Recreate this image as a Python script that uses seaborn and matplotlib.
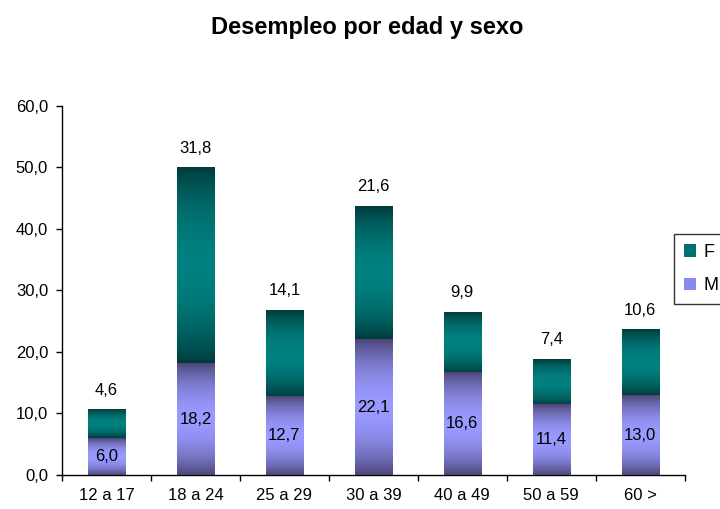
import numpy as np
import pandas as pd
import matplotlib
matplotlib.use("Agg")
import matplotlib.pyplot as plt
from matplotlib.colors import LinearSegmentedColormap
from matplotlib.patches import Patch
import seaborn as sns

# datos
edades = ['12 a 17', '18 a 24', '25 a 29', '30 a 39', '40 a 49', '50 a 59', '60 >']
valores_m = [6.0, 18.2, 12.7, 22.1, 16.6, 11.4, 13.0]
valores_f = [4.6, 31.8, 14.1, 21.6, 9.9, 7.4, 10.6]

df = pd.DataFrame({'edad': edades, 'M': valores_m, 'F': valores_f})
df['total'] = df['M'] + df['F']

sns.set_style('ticks')
plt.rcParams['font.family'] = ['Liberation Sans', 'DejaVu Sans']
plt.rcParams['text.color'] = 'black'
plt.rcParams['xtick.color'] = 'black'
plt.rcParams['ytick.color'] = 'black'
plt.rcParams['axes.labelcolor'] = 'black'

fig = plt.figure(figsize=(7.2, 5.09), dpi=100)
ax = fig.add_axes([0.0861, 0.0668, 0.865, 0.725])

ancho = 0.42
sns.barplot(data=df, x='edad', y='total', color='#008080', width=ancho, saturation=1, ax=ax)
sns.barplot(data=df, x='edad', y='M', color='#9999ff', width=ancho, saturation=1, ax=ax)

# degradado: oscuro arriba y abajo, claro en el medio
cmap_f = LinearSegmentedColormap.from_list('f', ['#003a3a', '#008080'])
cmap_m = LinearSegmentedColormap.from_list('m', ['#4a4474', '#9999ff'])
t = np.linspace(0, 1, 256)
perfil = np.clip(np.sin(np.pi * t) ** 0.8, 0, 1).reshape(-1, 1)

n = len(edades)
barras_total = ax.patches[:n]
barras_m = ax.patches[n:2 * n]
for p_tot, p_m in zip(barras_total, barras_m):
    x0, w = p_tot.get_x(), p_tot.get_width()
    m = p_m.get_height()
    tot = p_tot.get_height()
    ax.imshow(perfil, cmap=cmap_f, aspect='auto', extent=(x0, x0 + w, m, tot),
              vmin=0, vmax=1, zorder=3, interpolation='bilinear')
    ax.imshow(perfil, cmap=cmap_m, aspect='auto', extent=(x0, x0 + w, 0, m),
              vmin=0, vmax=1, zorder=3, interpolation='bilinear')

ax.set_xlim(-0.5, n - 0.5)
ax.set_ylim(0, 60)
ax.set_yticks(np.arange(0, 61, 10))
ax.set_yticklabels([f'{v:.1f}'.replace('.', ',') for v in np.arange(0, 61, 10)])

# etiquetas
for i, (m, f) in enumerate(zip(valores_m, valores_f)):
    ax.text(i, m / 2, f'{m:.1f}'.replace('.', ','), ha='center', va='center',
            fontsize=12, color='black', zorder=5)
    ax.annotate(f'{f:.1f}'.replace('.', ','), (i, m + f), xytext=(0, 14),
                textcoords='offset points', ha='center', va='center', fontsize=12,
                color='black', zorder=5)

ax.set_xlabel('')
ax.set_ylabel('')
ax.tick_params(axis='x', which='major', length=0, pad=9.5, labelsize=12, labelcolor='black')
ax.set_xticks(np.arange(-0.5, n), minor=True)
ax.tick_params(axis='x', which='minor', length=4, width=1, color='black')
ax.tick_params(axis='y', length=4, width=1, color='black', labelsize=12, pad=6,
               labelcolor='black')
sns.despine(ax=ax)
for s in ['left', 'bottom']:
    ax.spines[s].set_color('black')
    ax.spines[s].set_linewidth(1)

fig.text(0.51, 0.945, 'Desempleo por edad y sexo', ha='center', va='center',
         fontsize=17, fontweight='bold', color='black')

handles = [Patch(facecolor='#007070', edgecolor='none', label='F'),
           Patch(facecolor='#8888ee', edgecolor='none', label='M')]
leg = fig.legend(handles=handles, loc='upper left', bbox_to_anchor=(0.936, 0.54),
                 frameon=True, fancybox=False, fontsize=13, handlelength=0.7,
                 handleheight=0.7, handletextpad=0.4, labelspacing=0.9,
                 borderpad=0.55, borderaxespad=0, labelcolor='black')
leg.get_frame().set_edgecolor('black')
leg.get_frame().set_linewidth(1)

fig.savefig('out.png', dpi=100)
